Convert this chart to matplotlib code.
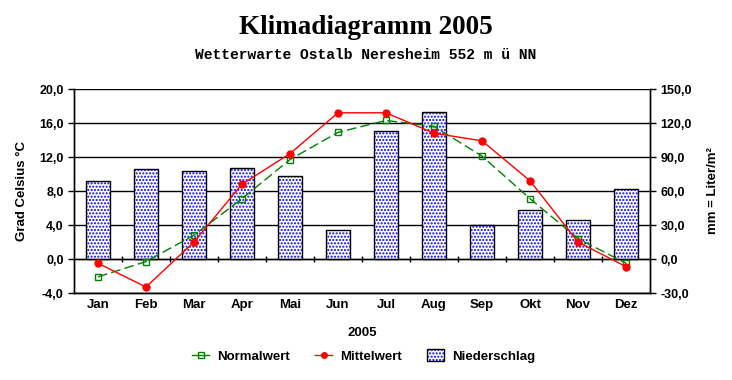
import numpy as np
import matplotlib
matplotlib.use("Agg")
import matplotlib.pyplot as plt
from matplotlib.lines import Line2D
from matplotlib.patches import Patch
from matplotlib.legend_handler import HandlerTuple

# Daten 2005
monate = ["Jan", "Feb", "Mar", "Apr", "Mai", "Jun", "Jul", "Aug", "Sep", "Okt", "Nov", "Dez"]
niederschlag = [69, 79, 78, 80, 73, 26, 113, 130, 30, 43, 34, 62]   # mm
mittelwert = [-0.5, -3.3, 2.0, 8.8, 12.4, 17.2, 17.2, 14.8, 13.9, 9.2, 2.0, -0.9]   # Grad C
normalwert = [-2.1, -0.3, 2.8, 7.1, 11.7, 14.9, 16.3, 15.6, 12.1, 7.1, 2.4, -0.5]

temp_ticks = [-4, 0, 4, 8, 12, 16, 20]
mm_ticks = [-30, 0, 30, 60, 90, 120, 150]

plt.rcParams['font.family'] = 'Liberation Sans'
plt.rcParams['hatch.linewidth'] = 1.0

fig = plt.figure(figsize=(7.32, 3.80), dpi=100)
ax = fig.add_axes([74/732, 87/380, 576/732, 204/380])
ax2 = ax.twinx()

x = np.arange(len(monate))

# Niederschlag-Balken auf rechter Achse (liegt hinten)
ax2.bar(x, niederschlag, width=0.52, color='white', edgecolor='blue', hatch='.....', lw=0, zorder=2)
ax2.bar(x, niederschlag, width=0.52, fill=False, edgecolor='black', lw=1, zorder=3)
ax2.set_ylim(-30, 150)
ax2.set_yticks(mm_ticks)
ax2.set_yticklabels([f"{t:.1f}".replace('.', ',') for t in mm_ticks], fontweight='bold', fontsize=9)
ax2.yaxis.grid(True, color='black', lw=1)
ax2.set_axisbelow(True)
ax2.set_ylabel("mm = Liter/m²", fontweight='bold', fontsize=9.5, labelpad=11)

# Temperaturlinien vorne
ax.set_zorder(ax2.get_zorder() + 1)
ax.patch.set_visible(False)
ax.axhline(0, color='black', lw=1, zorder=1)
ax.plot(np.arange(len(monate) - 1) + 0.5, np.zeros(len(monate) - 1), '|', color='black', ms=5, mew=1)
ax.plot(x, normalwert, color='#008000', lw=1, ls=(0, (7, 3)), marker='s', ms=4,
        mfc='none', mec='#008000', mew=1, zorder=4)
ax.plot(x, mittelwert, color='red', lw=1, marker='o', ms=5, mfc='red', mec='red', zorder=5)
ax.set_ylim(-4, 20)
ax.set_xlim(-0.5, len(monate) - 0.5)
ax.set_yticks(temp_ticks)
ax.set_yticklabels([f"{t:.1f}".replace('.', ',') for t in temp_ticks], fontweight='bold', fontsize=9)
ax.set_xticks(x)
ax.set_xticklabels(monate, fontweight='bold', fontsize=9.5)
ax.tick_params(axis='x', length=0, pad=4)
ax.tick_params(axis='y', length=4, width=1)
ax2.tick_params(axis='y', length=4, width=1)
ax.set_ylabel("Grad Celsius °C", fontweight='bold', fontsize=9.5, labelpad=8)
ax.set_xlabel("2005", fontweight='bold', fontsize=9.5, labelpad=12)

for a in (ax, ax2):
    a.spines['top'].set_visible(False)
    for s in a.spines.values():
        s.set_linewidth(1)

fig.text(0.5, 1 - 28/380, "Klimadiagramm 2005", ha='center', va='center',
         family='Liberation Serif', fontweight='bold', fontsize=19.5)
fig.text(0.5, 1 - 55/380, "Wetterwarte Ostalb Neresheim 552 m ü NN", ha='center', va='center',
         family='Liberation Mono', fontweight='bold', fontsize=10.5)

handles = [
    Line2D([], [], color='#008000', lw=1, marker='s', ms=4, mfc='none', mec='#008000'),
    Line2D([], [], color='red', lw=1, marker='o', ms=4, mfc='red', mec='red'),
    (Patch(facecolor='white', edgecolor='blue', hatch='.....', lw=0),
     Patch(fill=False, edgecolor='black', lw=1)),
]
fig.legend(handles, ["Normalwert", "Mittelwert", "Niederschlag"], loc='center',
           bbox_to_anchor=(0.497, 1 - 356/380), ncol=3, frameon=False,
           prop={'weight': 'bold', 'size': 9.5}, handlelength=1.3, handleheight=1.0,
           handletextpad=0.6, columnspacing=1.9,
           handler_map={tuple: HandlerTuple(ndivide=1, pad=0)})

fig.savefig("out.png", dpi=100)
